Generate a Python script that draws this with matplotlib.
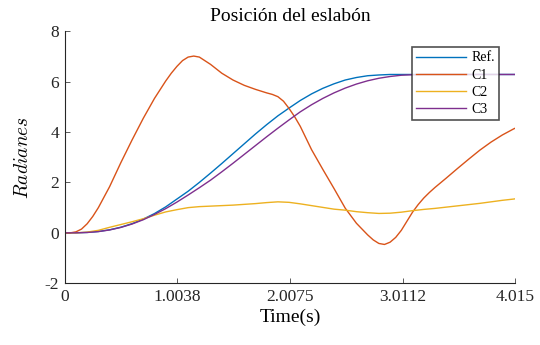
import matplotlib
matplotlib.use("Agg")
import matplotlib.pyplot as plt

plt.rcParams['font.family'] = ['Liberation Serif', 'DejaVu Serif']
plt.rcParams['mathtext.fontset'] = 'cm'
plt.rcParams['axes.unicode_minus'] = False

# sample times shared by Ref., C2 and C3 (s)
t = [0.0, 0.1, 0.2, 0.3, 0.4, 0.5, 0.6, 0.7, 0.8, 0.9,
     1.0, 1.1, 1.2, 1.3, 1.4, 1.5, 1.6, 1.7, 1.8, 1.9,
     2.0, 2.1, 2.2, 2.3, 2.4, 2.5, 2.6, 2.7, 2.8, 2.9,
     3.0, 3.1, 3.2, 3.3, 3.4, 3.5, 3.6, 3.7, 3.8, 3.9,
     4.0, 4.015]

ref = [0.0, 0.002, 0.017, 0.054, 0.121, 0.223, 0.364, 0.545, 0.765, 1.03,
       1.34, 1.65, 2.0, 2.37, 2.75, 3.14, 3.53, 3.92, 4.29, 4.64,
       4.95, 5.25, 5.51, 5.73, 5.91, 6.06, 6.16, 6.23, 6.26, 6.28,
       6.28, 6.28, 6.28, 6.28, 6.28, 6.28, 6.28, 6.28, 6.28, 6.28,
       6.28, 6.28]

c2 = [0.0, 0.0, 0.03, 0.10, 0.22, 0.33, 0.44, 0.56, 0.70, 0.83,
      0.92, 1.00, 1.04, 1.06, 1.08, 1.10, 1.13, 1.16, 1.20, 1.23,
      1.21, 1.15, 1.08, 1.01, 0.94, 0.90, 0.84, 0.80, 0.77, 0.78,
      0.82, 0.88, 0.93, 0.97, 1.02, 1.07, 1.12, 1.17, 1.23, 1.29,
      1.34, 1.35]

c3 = [0.0, 0.002, 0.015, 0.05, 0.115, 0.215, 0.35, 0.52, 0.73, 0.96,
      1.22, 1.50, 1.79, 2.09, 2.42, 2.76, 3.11, 3.46, 3.81, 4.15,
      4.48, 4.80, 5.08, 5.33, 5.55, 5.74, 5.90, 6.03, 6.13, 6.20,
      6.25, 6.27, 6.28, 6.28, 6.28, 6.28, 6.28, 6.28, 6.28, 6.28,
      6.28, 6.28]

# C1 moves faster, so it is sampled more finely
t_c1 = [0.0, 0.05, 0.1, 0.15, 0.2, 0.25, 0.3, 0.4, 0.5, 0.6,
        0.7, 0.8, 0.9, 0.95, 1.0, 1.05, 1.1, 1.15, 1.2, 1.3,
        1.4, 1.5, 1.6, 1.7, 1.8, 1.85, 1.9, 1.95, 2.0, 2.05,
        2.1, 2.2, 2.3, 2.4, 2.5, 2.6, 2.7, 2.75, 2.8, 2.85,
        2.9, 2.95, 3.0, 3.05, 3.1, 3.15, 3.2, 3.25, 3.3, 3.4,
        3.5, 3.6, 3.7, 3.8, 3.9, 4.0, 4.015]
c1 = [0.0, 0.0, 0.04, 0.15, 0.36, 0.65, 1.0, 1.83, 2.78, 3.68,
      4.54, 5.33, 6.02, 6.33, 6.60, 6.83, 6.97, 7.01, 6.97, 6.68,
      6.33, 6.06, 5.85, 5.69, 5.55, 5.49, 5.40, 5.22, 4.93, 4.60,
      4.22, 3.30, 2.52, 1.76, 0.98, 0.38, -0.08, -0.28, -0.42, -0.46,
      -0.37, -0.18, 0.10, 0.46, 0.82, 1.12, 1.38, 1.60, 1.80, 2.17,
      2.55, 2.92, 3.28, 3.60, 3.88, 4.12, 4.15]

xticks = [0, 1.0038, 2.0075, 3.0112, 4.015]
xtick_labels = ['0', '1.0038', '2.0075', '3.0112', '4.015']
yticks = [-2, 0, 2, 4, 6, 8]

fig = plt.figure(figsize=(5.4, 3.45), dpi=100)
ax = fig.add_axes([64.7 / 540, 1 - 283.3 / 345, 450.5 / 540, 252.2 / 345])

ax.plot(t, ref, color='#0072BD', lw=1.0, label='Ref.')
ax.plot(t_c1, c1, color='#D95319', lw=1.0, label='C1')
ax.plot(t, c2, color='#EDB120', lw=1.0, label='C2')
ax.plot(t, c3, color='#7E2F8E', lw=1.0, label='C3')

ax.set_xlim(0, 4.015)
ax.set_ylim(-2, 8)
ax.set_xticks(xticks)
ax.set_xticklabels(xtick_labels)
ax.set_yticks(yticks)

for side in ('top', 'right'):
    ax.spines[side].set_visible(False)
for side in ('left', 'bottom'):
    ax.spines[side].set_color('#262626')
    ax.spines[side].set_linewidth(0.8)

ax.tick_params(direction='in', length=3.6, width=0.6, color='#404040',
               labelsize=12.5, labelcolor='#262626', pad=4)

ax.set_title('Posición del eslabón', fontsize=14, pad=7)
ax.set_xlabel('Time(s)', fontsize=14, labelpad=3)
ax.set_ylabel('$Radianes$', fontsize=14, labelpad=9)

leg = ax.legend(loc='upper right', bbox_to_anchor=(0.964, 0.936),
                fontsize=10, frameon=True, fancybox=False, borderaxespad=0,
                handlelength=3.6, handletextpad=0.35, labelspacing=0.3,
                borderpad=0.3)
leg.get_frame().set_edgecolor('#262626')
leg.get_frame().set_linewidth(1.2)

fig.savefig('out.png', dpi=100)
